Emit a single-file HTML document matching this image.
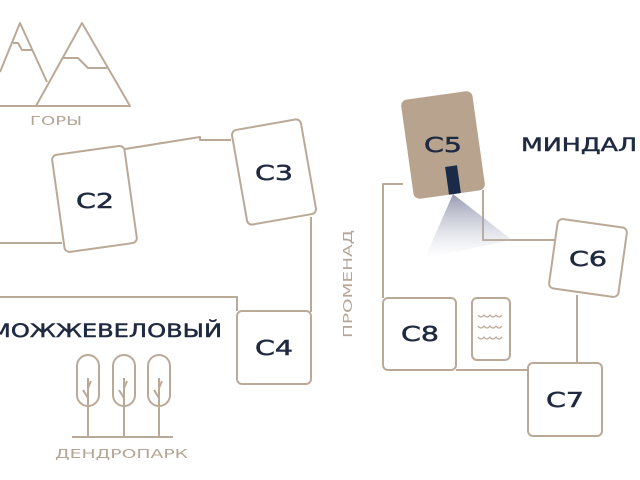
<!DOCTYPE html>
<html><head><meta charset="utf-8"><style>
html,body{margin:0;padding:0;background:#fff;width:640px;height:480px;overflow:hidden}
svg{display:block}
.t{font-family:"DejaVu Sans","Liberation Sans",sans-serif;fill:#1f2a40;stroke:#1f2a40;stroke-width:0.5}
.l{font-family:"DejaVu Sans","Liberation Sans",sans-serif;fill:#b5a595}
</style></head><body>
<svg width="640" height="480" viewBox="0 0 640 480" xmlns="http://www.w3.org/2000/svg">
<defs>
<linearGradient id="g" x1="0" y1="0" x2="0" y2="1">
<stop offset="0" stop-color="#8a8fa8" stop-opacity="0.9"/>
<stop offset="1" stop-color="#c8ccd8" stop-opacity="0"/>
</linearGradient>
</defs>
<g fill="none" stroke="#bba998" stroke-width="2" stroke-linejoin="round">
<path d="M0 106 H130 L82 23 L36 106"/>
<path d="M0 72 L20 23 L47 82"/>
<path d="M13 43 H18 L22 50 H32"/>
<path d="M63 58 H78 L88 68 H107"/>
<path d="M125 149 L200 137 V140 H231"/>
<path d="M0 243 H62"/>
<path d="M311 217 V312"/>
<path d="M0 297 H237 V311"/>
<path d="M403 184 H383 V298"/>
<path d="M483 190 V240 H555"/>
<path d="M456 370 H528"/>
<path d="M577 295 V363"/>
<rect x="-36" y="-49" width="73" height="98" rx="5" transform="translate(94 199) rotate(-8)" fill="#fff"/>
<rect x="-35" y="-48" width="70" height="96" rx="5" transform="translate(274 172) rotate(-10)" fill="#fff"/>
<rect x="237" y="311" width="74" height="73" rx="5" fill="#fff"/>
<rect x="-35" y="-35" width="70" height="70" rx="5" transform="translate(588 258) rotate(8)" fill="#fff"/>
<rect x="383" y="298" width="73" height="72" rx="5" fill="#fff"/>
<rect x="472" y="298" width="38" height="62" rx="5" fill="#fff"/>
<rect x="528" y="363" width="74" height="73" rx="5" fill="#fff"/>
<path d="M478 315 q3 4 6 0 q3 4 6 0 q3 4 6 0 q3 4 6 0" stroke-width="1.2"/>
<path d="M478 326 q3 4 6 0 q3 4 6 0 q3 4 6 0 q3 4 6 0" stroke-width="1.2"/>
<path d="M478 337 q3 4 6 0 q3 4 6 0 q3 4 6 0 q3 4 6 0" stroke-width="1.2"/>
<rect x="77" y="355" width="22" height="51" rx="11"/>
<rect x="113" y="355" width="22" height="51" rx="11"/>
<rect x="148" y="355" width="22" height="51" rx="11"/>
<path d="M88 378 V437 M83 390 L88 398 M91 381 L88 388 M124 378 V437 M119 390 L124 398 M127 381 L124 388 M159 378 V437 M154 390 L159 398 M162 381 L159 388 M72 437 H173"/>
</g>
<path d="M453 194 L425 258 L512 240 Z" fill="url(#g)"/>
<rect x="-36" y="-50" width="72" height="100" rx="6" transform="translate(443 145) rotate(-8)" fill="#b8a48e"/>
<rect x="-6" y="-14" width="12" height="28" transform="translate(453 180) rotate(-8)" fill="#1c2a4a"/>
<text class="t" x="76" y="208" font-size="20" textLength="38" lengthAdjust="spacingAndGlyphs">C2</text>
<text class="t" x="255" y="180" font-size="20" textLength="38" lengthAdjust="spacingAndGlyphs">C3</text>
<text class="t" x="255" y="355" font-size="20" textLength="38" lengthAdjust="spacingAndGlyphs">C4</text>
<text class="t" x="424" y="152" font-size="20" textLength="38" lengthAdjust="spacingAndGlyphs">C5</text>
<text class="t" x="569" y="266" font-size="20" textLength="38" lengthAdjust="spacingAndGlyphs">C6</text>
<text class="t" x="401" y="341" font-size="20" textLength="38" lengthAdjust="spacingAndGlyphs">C8</text>
<text class="t" x="546" y="407" font-size="20" textLength="38" lengthAdjust="spacingAndGlyphs">C7</text>
<text class="t" x="521" y="151" font-size="19" textLength="116" lengthAdjust="spacingAndGlyphs">МИНДАЛ</text>
<text class="t" x="-10" y="337" font-size="19" textLength="232" lengthAdjust="spacingAndGlyphs">МОЖЖЕВЕЛОВЫЙ</text>
<text class="l" x="30" y="125" font-size="12" textLength="52" lengthAdjust="spacingAndGlyphs">ГОРЫ</text>
<text class="l" x="55" y="458" font-size="12" textLength="133" lengthAdjust="spacingAndGlyphs">ДЕНДРОПАРК</text>
<text class="l" transform="translate(352 338) rotate(-90)" font-size="12" textLength="108" lengthAdjust="spacingAndGlyphs">ПРОМЕНАД</text>
</svg>
</body></html>
